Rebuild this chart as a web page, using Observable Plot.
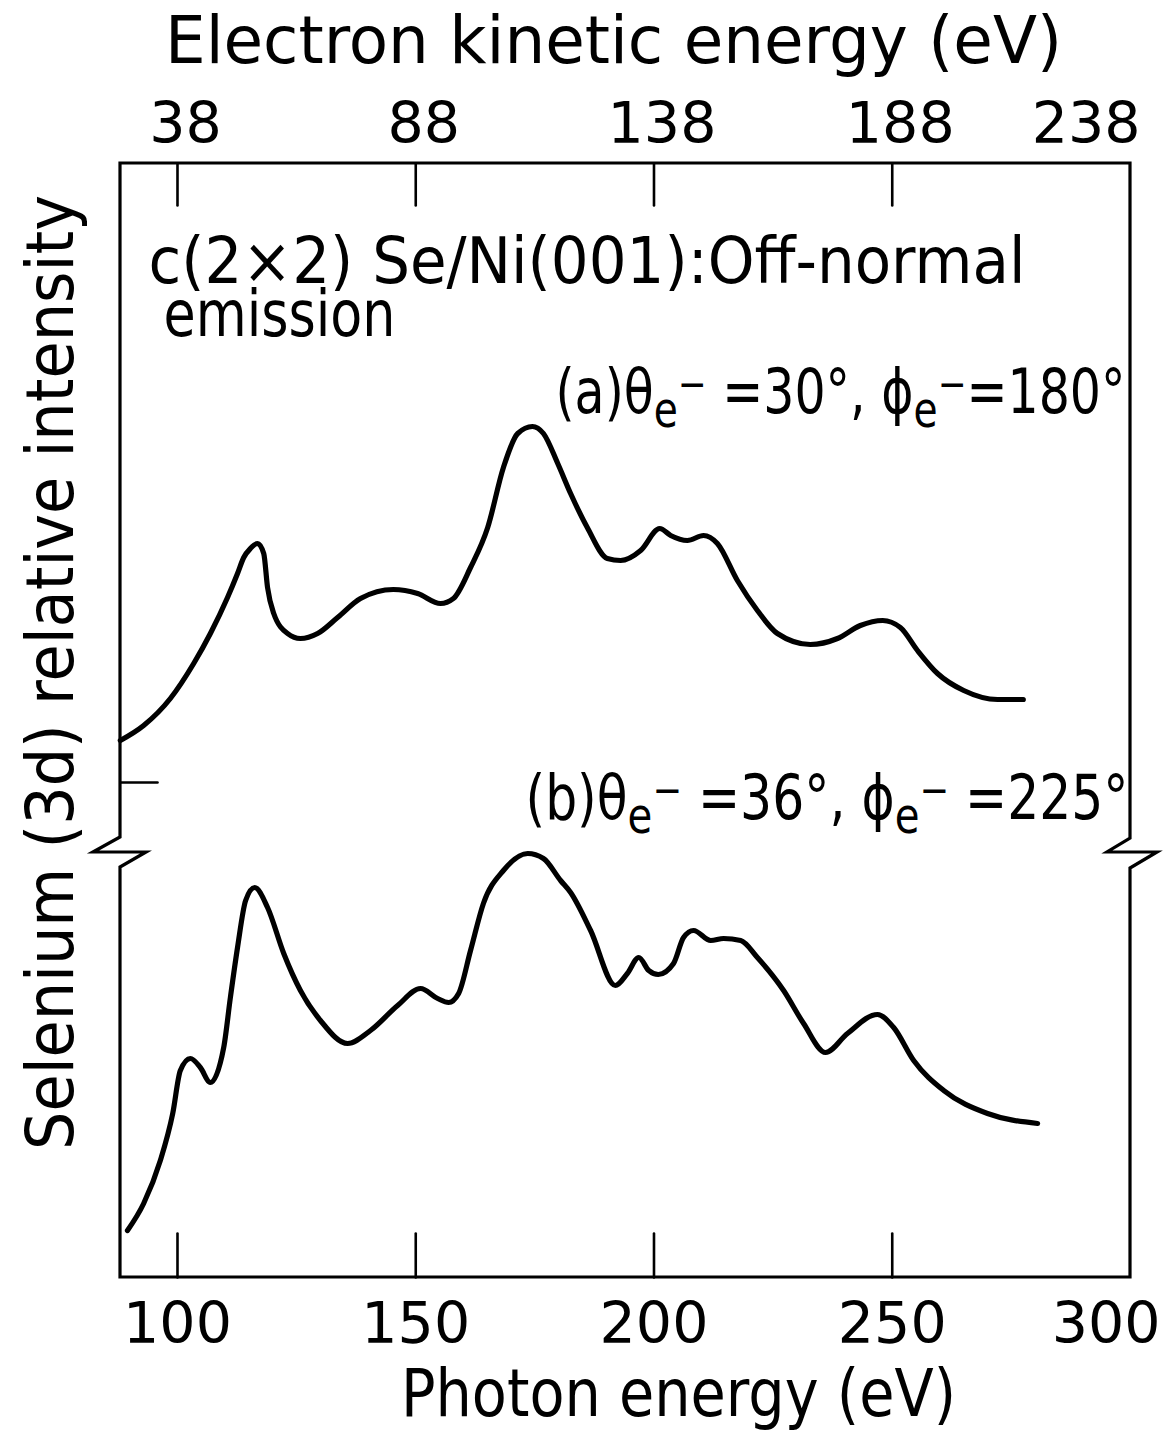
<!DOCTYPE html>
<html>
<head>
<meta charset="utf-8">
<script src="https://cdn.jsdelivr.net/npm/d3@7"></script>
<script src="https://cdn.jsdelivr.net/npm/@observablehq/plot@0.6"></script>
<style>
  body { margin: 0; background: #fff; }
</style>
</head>
<body>
<div id="chart"></div>
<script>
// Spectrum (a): theta = 30°, phi = 180°  — photon energy (eV) and relative intensity
const photonA = [88.0, 92.9, 98.5, 103.4, 106.9, 110.5, 112.6, 113.9, 115.3, 116.8, 118.1, 118.9,
  120.2, 123.1, 125.8, 129.4, 133.6, 138.4, 145.3, 150.4, 155.2, 157.9,
  161.5, 165.1, 168.4, 171.4, 174.5, 176.8, 179.8, 182.5, 186.0, 190.2,
  193.0, 197.2, 201.2, 203.5, 207.0, 210.4, 213.3, 217.5, 221.7, 225.9,
  232.8, 238.5, 243.3, 248.0, 251.7, 255.3, 259.5, 265.0, 272.1, 277.5];
const intensityA = [53.7, 55.2, 57.9, 61.4, 64.4, 68.0, 70.4, 72.0, 72.9, 73.4, 72.4, 69.0,
  66.4, 64.4, 63.9, 64.4, 66.0, 67.9, 68.8, 68.4, 67.4, 67.9,
  71.0, 75.0, 81.0, 84.4, 85.1, 84.4, 81.4, 78.4, 75.0, 71.9,
  71.7, 72.7, 74.9, 74.2, 73.7, 74.2, 73.4, 69.7, 66.7, 64.4,
  63.3, 63.9, 65.2, 65.7, 65.0, 62.7, 60.4, 58.7, 57.8, 57.8];

// Spectrum (b): theta = 36°, phi = 225°
const photonB = [89.5, 92.9, 96.4, 99.0, 100.6, 102.7, 104.8, 106.9, 109.7, 111.1,
  112.6, 114.3, 116.2, 118.9, 122.3, 125.8, 130.0, 135.7, 140.5, 146.2,
  151.0, 154.6, 156.9, 159.0, 161.5, 164.2, 168.4, 173.5, 176.8, 180.4,
  182.5, 186.7, 191.9, 194.4, 196.8, 198.9, 200.9, 204.1, 206.2, 208.3,
  211.9, 214.6, 218.2, 221.7, 227.2, 231.4, 236.0, 240.6, 246.9, 250.3,
  254.5, 260.8, 270.0, 280.5];
const intensityB = [4.7, 7.4, 11.7, 16.4, 20.7, 21.9, 21.0, 19.5, 23.0, 28.0,
  33.0, 37.7, 39.0, 37.0, 32.4, 28.7, 25.7, 23.4, 24.7, 27.2,
  28.9, 27.9, 27.5, 28.4, 32.7, 37.4, 40.7, 42.4, 41.9, 39.7,
  38.5, 34.7, 29.2, 30.4, 32.0, 30.7, 30.3, 31.4, 34.0, 34.7,
  33.7, 33.9, 33.7, 32.0, 28.7, 25.4, 22.5, 24.4, 26.3, 25.0,
  21.7, 18.7, 16.4, 15.4];

// Axes
const photonTicks = [100, 150, 200, 250, 300];
const kineticTicks = [38, 88, 138, 188, 238];
const kineticOffset = 62;          // photon energy − electron kinetic energy (eV)
const photonDomain = [88.04, 300];
const intensityDomain = [0, 111.4];
const intensityTicks = [49.5];
const axisBreak = [42.5];          // where the intensity axis is broken between the two spectra

// Text
const titleTop = ["Electron kinetic energy (eV)"];
const titleBottom = ["Photon energy (eV)"];
const titleLeft = ["Selenium (3d) relative intensity"];
const sampleLines = ["c(2×2) Se/Ni(001):Off-normal", "emission"];
// label parts: 0 = normal, 1 = subscript, 2 = superscript
const labelA = [["(a)θ", 0], ["e", 1], ["−", 2], [" =30°, ϕ", 0], ["e", 1], ["−", 2], ["=180°", 0]];
const labelB = [["(b)θ", 0], ["e", 1], ["−", 2], [" =36°, ϕ", 0], ["e", 1], ["−", 2], [" =225°", 0]];

const seriesA = photonA.map((p, i) => ({photon: p, intensity: intensityA[i]}));
const seriesB = photonB.map((p, i) => ({photon: p, intensity: intensityB[i]}));
const joinParts = (parts) => parts.map((d) => d[0]).join("");

// a plain stroke for inward tick marks
const tickShape = {draw(context, l) { context.moveTo(0, 0); context.lineTo(0, -l); }};

// frame with a Z-shaped break on both vertical sides
function brokenFrame(index, scales, values, dims) {
  const x0 = dims.marginLeft, x1 = dims.width - dims.marginRight;
  const y0 = dims.marginTop, y1 = dims.height - dims.marginBottom;
  const yb = scales.y(axisBreak[0]);
  const p = d3.path();
  p.moveTo(x0, yb - 15); p.lineTo(x0, y0); p.lineTo(x1, y0); p.lineTo(x1, yb - 14);
  p.lineTo(x1 - 23, yb); p.lineTo(x1 + 27, yb); p.lineTo(x1, yb + 16); p.lineTo(x1, y1);
  p.lineTo(x0, y1); p.lineTo(x0, yb + 15); p.lineTo(x0 + 26, yb); p.lineTo(x0 - 27, yb); p.closePath();
  const g = d3.create("svg:g");
  g.append("path").attr("d", p.toString()).attr("fill", "none")
    .attr("stroke", "black").attr("stroke-width", 3.2).attr("stroke-linejoin", "miter");
  return g.node();
}

const chart = Plot.plot({
  width: 1173,
  height: 1432,
  marginLeft: 120,
  marginRight: 43,
  marginTop: 163,
  marginBottom: 155,
  style: {fontFamily: "'DejaVu Sans', sans-serif", color: "black", background: "white"},
  x: {domain: photonDomain, axis: null},
  y: {domain: intensityDomain, axis: null},
  marks: [
    brokenFrame,
    Plot.vector(photonTicks.filter((d) => d < photonDomain[1]), {x: (d) => d, frameAnchor: "bottom", length: 44, rotate: 0, anchor: "start", shape: tickShape, strokeWidth: 2.6}),
    Plot.vector(kineticTicks.filter((d) => d + kineticOffset < photonDomain[1]), {x: (d) => d + kineticOffset, frameAnchor: "top", length: 42, rotate: 180, anchor: "start", shape: tickShape, strokeWidth: 2.6}),
    Plot.vector(intensityTicks, {y: (d) => d, frameAnchor: "left", length: 37, rotate: 90, anchor: "start", shape: tickShape, strokeWidth: 2.6}),
    Plot.line(seriesA, {x: "photon", y: "intensity", curve: "monotone-x", stroke: "black", strokeWidth: 5.2}),
    Plot.line(seriesB, {x: "photon", y: "intensity", curve: "monotone-x", stroke: "black", strokeWidth: 5.2}),
    // tick labels
    Plot.text(photonTicks.filter((d) => d < photonDomain[1]), {x: (d) => d, text: (d) => String(d), frameAnchor: "bottom", dy: 65, lineAnchor: "bottom", fontSize: 57}),
    Plot.text(photonTicks.filter((d) => d >= photonDomain[1]), {x: (d) => d, text: (d) => String(d), frameAnchor: "bottom", dy: 65, dx: 30, textAnchor: "end", lineAnchor: "bottom", fontSize: 57}),
    Plot.text(kineticTicks.filter((d) => d + kineticOffset < photonDomain[1]), {x: (d) => d + kineticOffset, text: (d) => String(d), frameAnchor: "top", dy: -21, dx: 8, lineAnchor: "bottom", fontSize: 57}),
    Plot.text(kineticTicks.filter((d) => d + kineticOffset >= photonDomain[1]), {x: (d) => d + kineticOffset, text: (d) => String(d), frameAnchor: "top", dy: -21, dx: 10, textAnchor: "end", lineAnchor: "bottom", fontSize: 57}),
    // axis titles
    Plot.text(titleTop, {frameAnchor: "top", dx: -12, dy: -101, lineAnchor: "bottom", fontSize: 66}),
    Plot.text(titleBottom, {frameAnchor: "bottom", dx: 53, dy: 138, lineAnchor: "bottom", fontSize: 66}),
    Plot.text(titleLeft, {frameAnchor: "left", dx: -48, dy: -48, rotate: -90, textAnchor: "middle", lineAnchor: "bottom", fontSize: 65}),
    // annotations
    Plot.text([sampleLines[0]], {frameAnchor: "top-left", dx: 28, dy: 119, textAnchor: "start", lineAnchor: "bottom", fontSize: 64}),
    Plot.text([sampleLines[1]], {frameAnchor: "top-left", dx: 43, dy: 172, textAnchor: "start", lineAnchor: "bottom", fontSize: 64}),
    Plot.text([joinParts(labelA)], {frameAnchor: "top-left", dx: 435, dy: 249, textAnchor: "start", lineAnchor: "bottom", fontSize: 62}),
    Plot.text([joinParts(labelB)], {frameAnchor: "top-left", dx: 405, dy: 655, textAnchor: "start", lineAnchor: "bottom", fontSize: 62})
  ]
});

// rich labels: subscript "e" and raised minus sign
function richText(node, parts) {
  const t = d3.select(node);
  t.text(null);
  let level = 0; // 0 baseline, 1 sub, 2 sup
  const offset = {0: 0, 1: 14, 2: -14};
  for (const [s, role] of parts) {
    const sp = t.append("tspan").text(s);
    const shift = offset[role] - offset[level];
    if (shift) sp.attr("dy", shift);
    if (role) sp.attr("font-size", role === 1 ? "0.8em" : "0.7em");
    level = role;
  }
}

const widths = new Map([
  [titleTop[0], 897], [titleBottom[0], 555], [titleLeft[0], 955],
  [sampleLines[0], 877], [sampleLines[1], 232],
  [joinParts(labelA), 570], [joinParts(labelB), 603]
]);
d3.select(chart).selectAll("text").each(function () {
  const s = this.textContent;
  if (s === joinParts(labelA)) richText(this, labelA);
  if (s === joinParts(labelB)) richText(this, labelB);
  if (widths.has(s)) {
    this.setAttribute("textLength", widths.get(s));
    this.setAttribute("lengthAdjust", "spacingAndGlyphs");
  }
});

document.getElementById("chart").append(chart);
</script>
</body>
</html>
